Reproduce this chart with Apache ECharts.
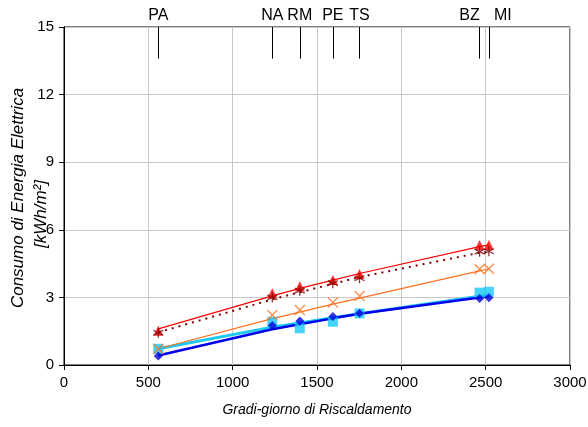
<!DOCTYPE html>
<html><head><meta charset="utf-8">
<script src="https://cdn.jsdelivr.net/npm/echarts@6/dist/echarts.min.js"></script>
<style>html,body{margin:0;padding:0;background:#fff}#c{width:588px;height:427px}</style>
</head><body><div id="c"></div>
<script>
const cities = ['PA','NA','RM','PE','TS','BZ','MI'];
const gradiGiorno = [559, 1235, 1398, 1594, 1752, 2464, 2519];
const xTicks = [0, 500, 1000, 1500, 2000, 2500, 3000];
const yTicks = [0, 3, 6, 9, 12, 15];
// measured points
const triangoli = [1.52, 3.18, 3.50, 3.77, 4.04, 5.33, 5.33];
const asterischi = [1.43, 3.00, 3.30, 3.63, 3.85, 5.03, 5.05];
const croci = [0.71, 2.22, 2.44, 2.77, 3.06, 4.25, 4.27];
const quadrati = [0.72, 1.92, 1.63, 1.92, 2.29, 3.21, 3.25];
const rombi = [0.40, 1.75, 1.95, 2.15, 2.30, 2.95, 2.98];
// trend lines read at the city positions
const trendRosso = [1.60, 3.07, 3.40, 3.77, 4.06, 5.25, 5.33];
const trendPunteggiato = [1.45, 2.91, 3.23, 3.60, 3.90, 4.98, 5.05];
const trendArancio = [0.72, 2.06, 2.35, 2.70, 2.97, 4.18, 4.27];
const trendCiano = [0.72, 1.68, 1.86, 2.10, 2.28, 3.05, 3.12];
const trendBlu = [0.42, 1.59, 1.81, 2.07, 2.27, 3.00, 3.05];
const cityLineBottom = 13.6, cityLineTop = 15;
const yTitle1 = 'Consumo di Energia Elettrica';
const yTitle2 = '[kWh/m²]';
const xTitle = 'Gradi-giorno di Riscaldamento';

const pairs = arr => gradiGiorno.map((g, i) => [g, arr[i]]);
const FONT = 'Liberation Sans, Arial, sans-serif';
const asteriskPath = 'path://M5,0 L5,10 M0.7,2.5 L9.3,7.5 M9.3,2.5 L0.7,7.5';
const xPath = 'path://M0,0 L10,10 M10,0 L0,10';
const labelShift = {BZ: [-10, 0], MI: [14, 0]};

function trend(data, color, width, type) {
  return {type: 'line', data: pairs(data), smooth: false, showSymbol: false, symbol: 'none',
    lineStyle: {color: color, width: width, type: type || 'solid'}, z: 2, silent: true};
}
function pts(data, symbol, size, color, stroke) {
  return {type: 'scatter', data: pairs(data), symbol: symbol, symbolSize: size,
    itemStyle: stroke ? {color: 'none', borderColor: color, borderWidth: 1.3} : {color: color},
    z: 3, silent: true};
}

const chart = echarts.init(document.getElementById('c'), null, {renderer: 'canvas'});
chart.setOption({
  animation: false,
  grid: {left: 64, right: 18, top: 27, bottom: 62, show: true, borderColor: '#000', borderWidth: 1,
    containLabel: false, outerBoundsMode: 'none'},
  graphic: [
    {type: 'text', x: 18, y: 198, rotation: Math.PI / 2, silent: true,
      style: {text: yTitle1, font: 'italic 17px ' + FONT, fill: '#000', textAlign: 'center', textVerticalAlign: 'middle'}},
    {type: 'text', x: 41, y: 214, rotation: Math.PI / 2, silent: true,
      style: {text: yTitle2, font: 'italic 17px ' + FONT, fill: '#000', textAlign: 'center', textVerticalAlign: 'middle'}}
  ],
  xAxis: {type: 'value', min: xTicks[0], max: xTicks[xTicks.length-1], interval: 500,
    name: xTitle, nameLocation: 'middle', nameGap: 38,
    nameTextStyle: {fontFamily: FONT, fontSize: 14, fontStyle: 'italic', color: '#000'},
    axisLine: {lineStyle: {color: '#000'}}, axisTick: {show: true, length: 5, lineStyle: {color: '#000'}},
    axisLabel: {fontFamily: FONT, fontSize: 15, color: '#000', margin: 10, formatter: v => String(v)},
    splitLine: {show: true, lineStyle: {color: '#c8c8c8'}}},
  yAxis: {type: 'value', min: yTicks[0], max: yTicks[yTicks.length-1], interval: 3,
    axisLine: {lineStyle: {color: '#000'}}, axisTick: {show: true, length: 5, lineStyle: {color: '#000'}},
    axisLabel: {fontFamily: FONT, fontSize: 15, color: '#000', margin: 10},
    splitLine: {show: true, lineStyle: {color: '#c8c8c8'}}},
  series: [
    trend(trendCiano, '#1ec8f0', 3),
    trend(trendBlu, '#0000ee', 2.5),
    trend(trendArancio, '#ff7020', 1.2),
    trend(trendPunteggiato, '#800000', 2, [2, 5]),
    trend(trendRosso, '#ff0000', 1.2),
    pts(quadrati, 'rect', 10, '#19c8f5'),
    pts(rombi, 'diamond', 9, '#0000dd'),
    pts(croci, xPath, 10, '#ff7020', true),
    pts(triangoli, 'triangle', 10, '#ff0000'),
    pts(asterischi, asteriskPath, 10, '#800000', true),
    {type: 'line', data: [], silent: true,
      markLine: {symbol: ['none', 'none'], silent: true, animation: false,
        lineStyle: {color: '#000', width: 1, type: 'solid'},
        label: {show: true, position: 'end', fontFamily: FONT, fontSize: 16, color: '#000', distance: 3},
        data: cities.map((c, i) => [
          {coord: [gradiGiorno[i], cityLineBottom]},
          {coord: [gradiGiorno[i], cityLineTop], label: {formatter: c, offset: labelShift[c] || [0, 0]}}
        ])}}
  ]
});
</script></body></html>
